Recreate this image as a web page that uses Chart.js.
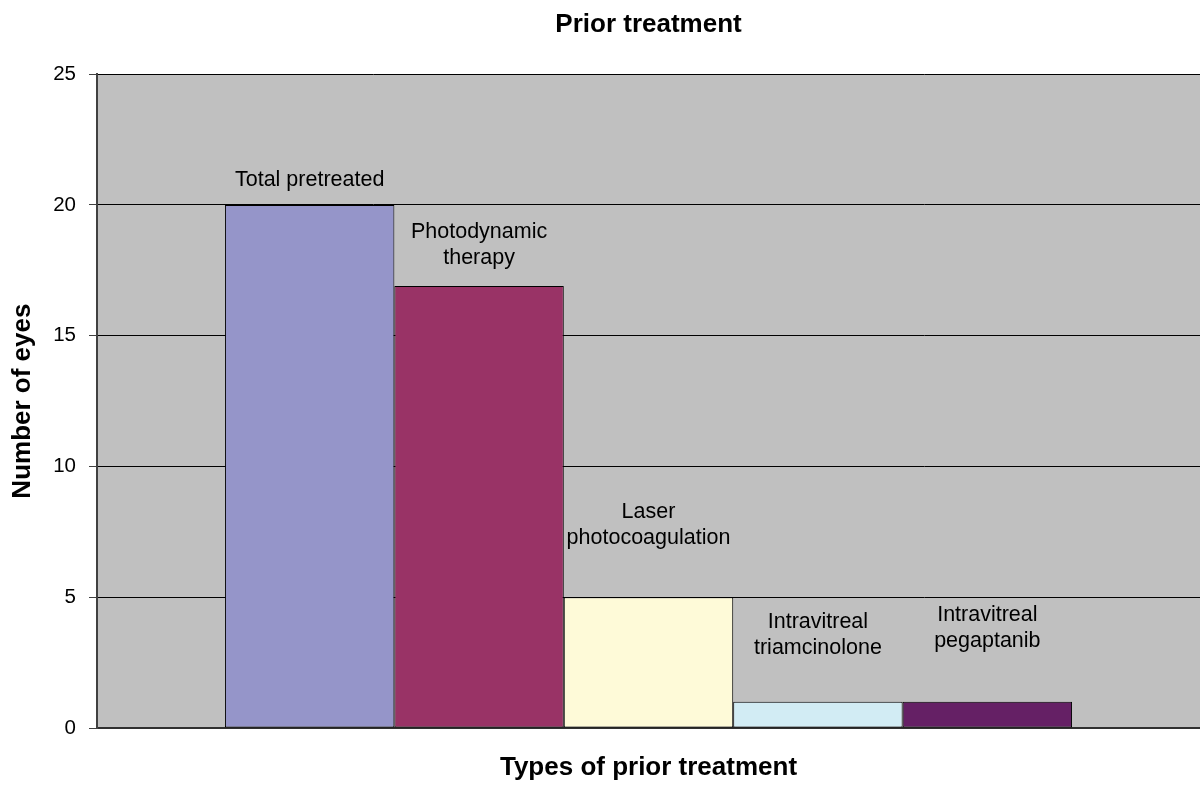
<!DOCTYPE html>
<html>
<head>
<meta charset="utf-8">
<style>
  html, body { margin: 0; padding: 0; background: #ffffff; }
  #wrap { width: 1200px; height: 785px; position: relative; }
</style>
<script src="https://cdn.jsdelivr.net/npm/chart.js@4.4.1/dist/chart.umd.min.js"></script>
</head>
<body>
<div id="wrap"><canvas id="c" width="1200" height="785"></canvas></div>
<script>
// ---- data ----
const categories = [''];
const seriesNames = [
  ['Total pretreated'],
  ['Photodynamic', 'therapy'],
  ['Laser', 'photocoagulation'],
  ['Intravitreal', 'triamcinolone'],
  ['Intravitreal', 'pegaptanib']
];
const seriesValues = [20, 16.9, 5, 1, 1];
const yTicks = [0, 5, 10, 15, 20, 25];

// ---- styles ----
const seriesColors = ['#9595C9', '#993366', '#FEFAD8', '#D2ECF4', '#652065'];
const labelLift = [25, 28, 59, 54, 61];   // px from bar top to centre of last label line
const FONT = '"Liberation Sans", Arial, Helvetica, sans-serif';

const datasets = seriesValues.map((v, i) => ({
  label: seriesNames[i].join(' '),
  data: [v],
  backgroundColor: seriesColors[i],
  borderColor: '#000000',
  borderWidth: 1,
  borderSkipped: false,
  barPercentage: 1.0,
  categoryPercentage: 0.768
}));

const plotBg = {
  id: 'plotBg',
  beforeDraw(chart) {
    const {ctx, chartArea: a} = chart;
    ctx.save();
    ctx.fillStyle = '#C0C0C0';
    ctx.fillRect(a.left, a.top, a.right - a.left, a.bottom - a.top);
    ctx.restore();
  }
};

const barLabels = {
  id: 'barLabels',
  afterDatasetsDraw(chart) {
    const ctx = chart.ctx;
    ctx.save();
    ctx.font = '21.5px ' + FONT;
    ctx.fillStyle = '#000000';
    ctx.textAlign = 'center';
    ctx.textBaseline = 'middle';
    chart.data.datasets.forEach((ds, i) => {
      const el = chart.getDatasetMeta(i).data[0];
      if (!el) return;
      const lines = seriesNames[i];
      const lh = 26;
      const lastY = el.y - labelLift[i];
      lines.forEach((t, j) => {
        ctx.fillText(t, el.x, lastY - (lines.length - 1 - j) * lh);
      });
    });
    ctx.restore();
  }
};

new Chart(document.getElementById('c'), {
  type: 'bar',
  data: { labels: categories, datasets },
  options: {
    responsive: false,
    animation: false,
    devicePixelRatio: 1,
    layout: { padding: { left: 0, right: 0, top: 0, bottom: 0 } },
    plugins: {
      legend: { display: false },
      tooltip: { enabled: false },
      title: {
        display: true,
        fullSize: false,
        text: 'Prior treatment',
        color: '#000000',
        font: { family: FONT, size: 26, weight: 'bold', lineHeight: 1.2 },
        padding: { top: 9, bottom: 34 }
      }
    },
    scales: {
      x: {
        grid: { display: false },
        border: { display: true, color: '#303030', width: 2 },
        ticks: { display: false },
        title: {
          display: true,
          text: 'Types of prior treatment',
          color: '#000000',
          font: { family: FONT, size: 26, weight: 'bold', lineHeight: 1.2 },
          padding: { top: 0, bottom: 2 }
        },
        afterFit(scale) { scale.height = 57; }
      },
      y: {
        min: 0,
        max: 25,
        afterBuildTicks(scale) { scale.ticks = yTicks.map(v => ({ value: v })); },
        grid: { color: '#000000', lineWidth: 1, tickLength: 8, tickColor: '#404040' },
        border: { display: true, color: '#404040', width: 2 },
        ticks: {
          color: '#000000',
          font: { family: FONT, size: 20.5 },
          padding: 13
        },
        title: {
          display: true,
          text: 'Number of eyes',
          color: '#000000',
          font: { family: FONT, size: 26, weight: 'bold', lineHeight: 1.2 },
          padding: { top: 7, bottom: 0 }
        },
        afterFit(scale) { scale.width = 97; }
      }
    }
  },
  plugins: [plotBg, barLabels]
});
</script>
</body>
</html>
